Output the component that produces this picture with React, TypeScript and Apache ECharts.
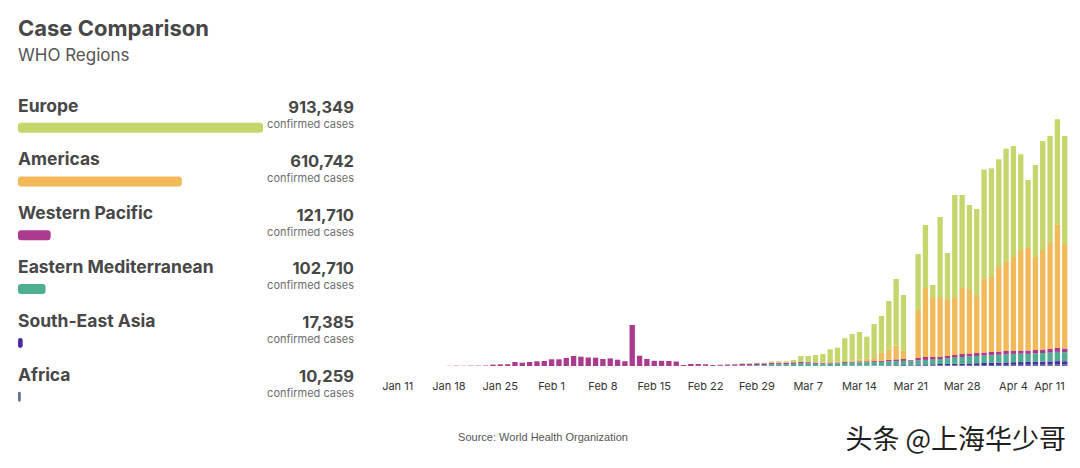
import React, { useEffect, useRef } from "react";
import * as echarts from "echarts";

const regions = ["Europe", "Americas", "Western Pacific", "Eastern Mediterranean", "South-East Asia", "Africa"];
const regionTotals = [913349, 610742, 121710, 102710, 17385, 10259];
const regionColors = ["#c6d66c", "#f1b957", "#ab3b8f", "#4fae91", "#4a2aa3", "#5b7299"];

const dates = [
  "Jan 11","Jan 12","Jan 13","Jan 14","Jan 15","Jan 16","Jan 17","Jan 18","Jan 19","Jan 20","Jan 21","Jan 22","Jan 23","Jan 24","Jan 25","Jan 26","Jan 27","Jan 28","Jan 29","Jan 30","Jan 31",
  "Feb 1","Feb 2","Feb 3","Feb 4","Feb 5","Feb 6","Feb 7","Feb 8","Feb 9","Feb 10","Feb 11","Feb 12","Feb 13","Feb 14","Feb 15","Feb 16","Feb 17","Feb 18","Feb 19","Feb 20","Feb 21","Feb 22","Feb 23","Feb 24","Feb 25","Feb 26","Feb 27","Feb 28","Feb 29",
  "Mar 1","Mar 2","Mar 3","Mar 4","Mar 5","Mar 6","Mar 7","Mar 8","Mar 9","Mar 10","Mar 11","Mar 12","Mar 13","Mar 14","Mar 15","Mar 16","Mar 17","Mar 18","Mar 19","Mar 20","Mar 21","Mar 22","Mar 23","Mar 24","Mar 25","Mar 26","Mar 27","Mar 28","Mar 29","Mar 30","Mar 31",
  "Apr 1","Apr 2","Apr 3","Apr 4","Apr 5","Apr 6","Apr 7","Apr 8","Apr 9","Apr 10","Apr 11",
];

// daily new confirmed cases by region (stack order bottom -> top)
const africa = [
  0,0,0,0,0,0,0,0,0,0, 0,0,0,0,0,0,0,0,0,0, 0,0,0,0,0,0,0,0,0,0, 0,0,0,0,0,0,0,0,0,0,
  0,0,0,0,0,0,0,0,0,0, 0,0,0,0,0,0,0,0,0,0, 0,0,
  40,40,40,80,80,120,120,160,120,240,
  240,240,280,280,320,320,360,360,400,400,
  440,440,480,480,480,520,520,560,600,600,
];
const southEastAsia = [
  0,0,0,0,0,0,0,0,0,0, 0,0,0,0,0,0,0,0,0,0, 0,0,0,0,0,0,0,0,0,0, 0,0,0,0,0,0,0,0,0,0,
  0,0,0,0,0,0,0,0,0,0, 0,0,0,0,0,0,0,0,0,0, 0,
  40,40,80,80,120,160,200,200,240,200,
  400,400,440,520,560,600,640,680,760,800,
  880,920,1000,1040,1080,1160,1200,1240,1280,1360,1320,
];
const easternMed = [
  0,0,0,0,0,0,0,0,0,0, 0,0,0,0,0,0,0,0,0,0, 0,0,0,0,0,0,0,0,0,0, 0,0,0,0,0,0,0,0,0,0, 0,
  40,40,40,80,120,120,160,240,400,400,
  640,600,640,880,1120,1000,880,720,1000,1080,
  1200,1320,1400,1440,1400,1400,1520,1600,1640,1600,
  1600,1800,1840,2000,2200,2400,2640,2800,2880,3000,
  3040,3120,3200,3320,3360,3200,3280,3440,3520,3680,3600,
];
const westernPacific = [
  0,0,0,0,0,0,
  10,60,140,80,150,140,200,560,660,700,
  1600,1320,1600,1880,2000,2680,2680,3200,4000,3720,
  3400,3320,2800,3040,2520,1920,16400,4120,2800,2080,
  2080,2000,1800,400,800,760,640,360,400,480,
  560,720,640,680,640,600,560,600,600,560,
  520,480,400,360,320,360,320,320,320,360,
  400,600,720,800,400,960,1160,1080,1000,960,
  1080,1200,1160,1200,1200,1280,1320,1360,1360,1280,
  1360,1400,1400,1440,1600,1480,
];
const americas = [
  0,0,0,0,0,0,0,0,0,0, 0,0,0,0,0,0,0,0,0,0, 0,0,0,0,0,0,0,0,0,0, 0,0,0,0,0,0,0,0,0,0,
  0,0,0,0,0,0,0,0,0,0,
  40,40,40,40,80,120,120,160,200,240,
  280,400,520,800,1000,1600,3200,4000,5600,3200,
  80,19200,27600,23600,23400,22400,22800,26400,25400,22800,
  29600,30000,33800,35600,37400,40200,41000,37200,39800,42400,
  49200,41400,
];
const europe = [
  0,0,0,0,0,0,0,0,0,0, 0,0,0,0,0,0,0,0,0,0, 0,0,0,0,0,0,0,0,0,0, 0,0,0,0,0,0,0,0,0,0, 0,0,0,0,
  40,80,120,200,200,240,240,560,680,600,
  840,2200,2360,2880,3480,5080,5640,9080,10560,10960,
  8840,13240,14760,19560,26560,22360,0,22400,25200,5200,
  32400,18800,41200,37200,34000,34800,43600,43480,43080,45320,
  44400,38280,27200,36800,43600,42800,42280,43600,
];

const stackSeries = [
  { name: "Africa", data: africa, color: regionColors[5] },
  { name: "South-East Asia", data: southEastAsia, color: regionColors[4] },
  { name: "Eastern Mediterranean", data: easternMed, color: regionColors[3] },
  { name: "Western Pacific", data: westernPacific, color: regionColors[2] },
  { name: "Americas", data: americas, color: regionColors[1] },
  { name: "Europe", data: europe, color: regionColors[0] },
];

const FONT = "Inter, 'Noto Sans', sans-serif";

export default function App() {
  const ref = useRef<HTMLDivElement>(null);

  useEffect(() => {
    document.body.style.margin = "0";
    const chart = echarts.init(ref.current!, null, { renderer: "svg" });

    const rowH = 53.8;
    const texts: any[] = [];
    regions.forEach((r, i) => {
      texts.push({
        type: "text", x: 18, y: 105 + rowH * i,
        style: { text: r, fill: "#474747", font: `bold 17.5px ${FONT}`, textAlign: "left", textVerticalAlign: "middle", align: "left", verticalAlign: "middle" },
      });
      texts.push({
        type: "text", x: 354, y: 107 + rowH * i,
        style: { text: regionTotals[i].toLocaleString("en-US"), fill: "#474747", font: `bold 16.5px ${FONT}`, textAlign: "right", textVerticalAlign: "middle", align: "right", verticalAlign: "middle" },
      });
      texts.push({
        type: "text", x: 354, y: 124 + rowH * i,
        style: { text: "confirmed cases", fill: "#6e6e6e", font: `11px ${FONT}`, textAlign: "right", textVerticalAlign: "middle", align: "right", verticalAlign: "middle" },
      });
    });

    const option: any = {
      animation: false,
      backgroundColor: "#ffffff",
      grid: [
        { left: 394, width: 674.4, top: 116, height: 250 },
        { left: 18, width: 245, top: 100.8, height: 322.8 },
      ],
      xAxis: [
        {
          type: "category", gridIndex: 0, data: dates,
          axisLine: { show: false }, axisTick: { show: false }, splitLine: { show: false },
          axisLabel: { interval: 6, margin: 14, fontSize: 11, color: "#333", fontFamily: FONT, alignMaxLabel: "right" },
        },
        { type: "value", gridIndex: 1, min: 0, max: Math.max(...regionTotals), show: false },
      ],
      yAxis: [
        { type: "value", gridIndex: 0, min: 0, max: 100000, show: false },
        { type: "category", gridIndex: 1, data: regions, inverse: true, show: false },
      ],
      series: [
        ...stackSeries.map((s) => ({
          type: "bar", name: s.name, stack: "daily", data: s.data,
          xAxisIndex: 0, yAxisIndex: 0, barCategoryGap: "27%",
          itemStyle: { color: s.color }, emphasis: { disabled: true },
        })),
        {
          type: "bar", xAxisIndex: 1, yAxisIndex: 1, barWidth: 10,
          data: regionTotals.map((v, i) => ({ value: v, itemStyle: { color: regionColors[i] } })),
          itemStyle: { borderRadius: 3 }, emphasis: { disabled: true },
        },
      ],
      graphic: [
        { type: "text", x: 18, y: 28, style: { text: "Case Comparison", fill: "#474747", font: `bold 22px ${FONT}`, textAlign: "left", textVerticalAlign: "middle", align: "left", verticalAlign: "middle" } },
        { type: "text", x: 18, y: 55, style: { text: "WHO Regions", fill: "#555555", font: `17px ${FONT}`, textAlign: "left", textVerticalAlign: "middle", align: "left", verticalAlign: "middle" } },
        ...texts,
        { type: "text", x: 543, y: 437, style: { text: "Source: World Health Organization", fill: "#555555", font: `11px 'Liberation Sans', Arial, sans-serif`, textAlign: "center", textVerticalAlign: "middle", align: "center", verticalAlign: "middle" } },
        { type: "text", x: 1066, y: 437, style: { text: "头条 @上海华少哥", fill: "#1e1e1e", font: `27px 'Noto Sans CJK SC', sans-serif`, textAlign: "right", textVerticalAlign: "middle", align: "right", verticalAlign: "middle" } },
      ],
    };
    chart.setOption(option);
    return () => chart.dispose();
  }, []);

  return <div ref={ref} style={{ position: "absolute", left: 0, top: 0, width: 1080, height: 468 }} />;
}
